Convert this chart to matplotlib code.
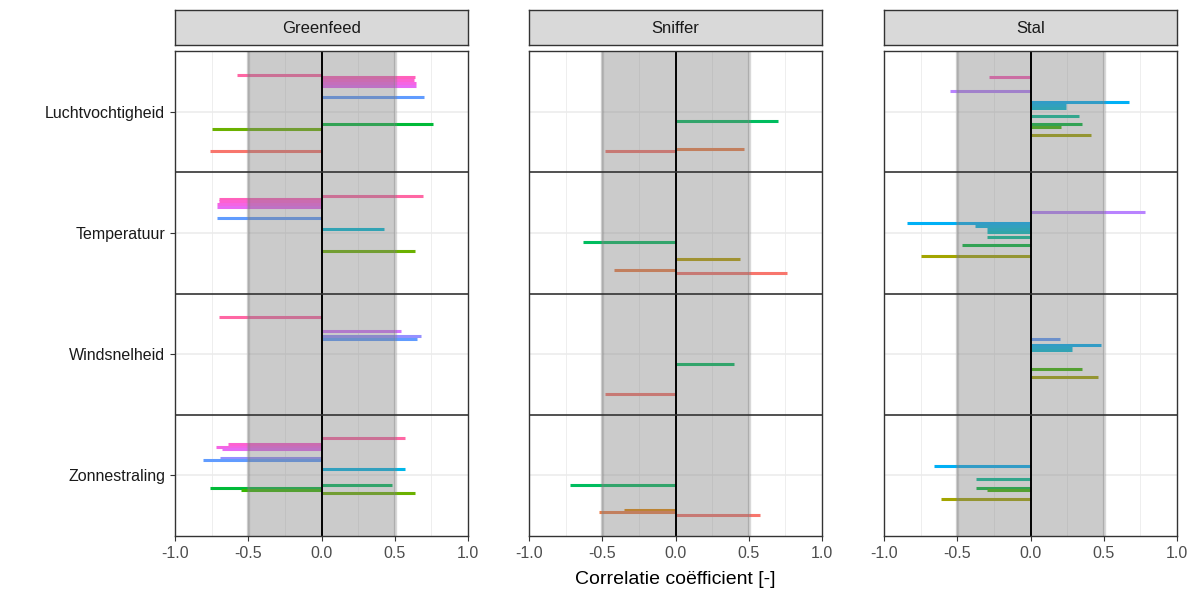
import numpy as np
import matplotlib
matplotlib.use("Agg")
from matplotlib import pyplot as plt

plt.rcParams['font.family'] = ['Liberation Sans', 'DejaVu Sans']

# data: per facet, the category, the series level (0..N-1) and correlation
categories = ["Luchtvochtigheid", "Temperatuur", "Windsnelheid", "Zonnestraling"]
facets = ["Greenfeed", "Sniffer", "Stal"]
n_levels = 30

greenfeed_cat = ["Luchtvochtigheid"] * 9 + ["Temperatuur"] * 8 + ["Windsnelheid"] * 4 + ["Zonnestraling"] * 11
greenfeed_lvl = [28, 27, 26, 25, 24, 20, 10, 8, 0,
                 28, 27, 26, 25, 24, 20, 16, 8,
                 28, 23, 21, 20,
                 28, 26, 25, 24, 21, 20, 17, 11, 10, 9, 8]
greenfeed_val = [-0.58, 0.64, 0.63, 0.645, 0.645, 0.70, 0.76, -0.75, -0.76,
                 0.69, -0.70, -0.70, -0.71, -0.71, -0.71, 0.43, 0.64,
                 -0.70, 0.54, 0.68, 0.65,
                 0.57, -0.64, -0.72, -0.68, -0.69, -0.81, 0.57, 0.48, -0.76, -0.55, 0.64]

sniffer_cat = ["Luchtvochtigheid"] * 3 + ["Temperatuur"] * 4 + ["Windsnelheid"] * 2 + ["Zonnestraling"] * 4
sniffer_lvl = [11, 1, 0,
               11, 5, 1, 0,
               11, 0,
               11, 2, 1, 0]
sniffer_val = [0.70, 0.47, -0.48,
               -0.63, 0.44, -0.42, 0.76,
               0.40, -0.48,
               -0.72, -0.35, -0.52, 0.58]

stal_cat = ["Luchtvochtigheid"] * 9 + ["Temperatuur"] * 8 + ["Windsnelheid"] * 6 + ["Zonnestraling"] * 5
stal_lvl = [27, 22, 18, 17, 16, 13, 10, 9, 6,
            22, 18, 17, 16, 15, 13, 10, 6,
            20, 18, 17, 16, 9, 6,
            18, 13, 10, 9, 6]
stal_val = [-0.28, -0.55, 0.675, 0.24, 0.24, 0.33, 0.35, 0.21, 0.415,
            0.78, -0.84, -0.38, -0.30, -0.30, -0.30, -0.47, -0.745,
            0.20, 0.48, 0.285, 0.285, 0.35, 0.46,
            -0.66, -0.37, -0.37, -0.30, -0.61]

panels = {
    "Greenfeed": (greenfeed_cat, greenfeed_lvl, greenfeed_val),
    "Sniffer": (sniffer_cat, sniffer_lvl, sniffer_val),
    "Stal": (stal_cat, stal_lvl, stal_val),
}


def hcl_hex(h, c=100.0, l=65.0):
    # polarLUV -> sRGB, like ggplot's hue_pal
    hr = np.deg2rad(h)
    U, V = c * np.cos(hr), c * np.sin(hr)
    Xn, Yn, Zn = 95.047, 100.0, 108.883
    un = 4 * Xn / (Xn + 15 * Yn + 3 * Zn)
    vn = 9 * Yn / (Xn + 15 * Yn + 3 * Zn)
    Y = Yn * ((l + 16) / 116) ** 3 if l > 8 else Yn * l / 903.3
    u = U / (13 * l) + un
    v = V / (13 * l) + vn
    X = 9.0 * Y * u / (4 * v)
    Z = -X / 3 - 5 * Y + 3 * Y / v
    M = np.array([[3.240479, -1.537150, -0.498535],
                  [-0.969256, 1.875992, 0.041556],
                  [0.055648, -0.204043, 1.057311]])
    rgb = M @ (np.array([X, Y, Z]) / 100.0)
    rgb = np.where(rgb > 0.0031308, 1.055 * np.abs(rgb) ** (1 / 2.4) - 0.055, 12.92 * rgb)
    rgb = np.clip(rgb, 0, 1)
    return rgb


palette = [hcl_hex(15 + 360 * i / n_levels) for i in range(n_levels)]
dodge = 0.68

fig = plt.figure(figsize=(11.98, 5.94), dpi=100)
W, H = 1198, 594
lefts = [175, 529, 884]
pw = 293
ptop, pbot = 51, 536

for k, name in enumerate(facets):
    ax = fig.add_axes([lefts[k] / W, 1 - pbot / H, pw / W, (pbot - ptop) / H])
    cats, lvls, vals = panels[name]
    ypos = np.array([categories.index(c) for c in cats], dtype=float)
    lv = np.array(lvls)
    # level 0 at bottom of each row (rows run top-down)
    y = ypos + dodge * (0.5 - (lv + 0.5) / n_levels)
    for yi, li, vi in zip(y, lv, vals):
        ax.hlines(yi, 0, vi, color=palette[li], lw=2.2, zorder=3, capstyle='butt')

    ax.set_xlim(-1, 1)
    ax.set_ylim(len(categories) - 0.5, -0.5)
    # grid
    for gx in [-0.75, -0.25, 0.25, 0.75]:
        ax.axvline(gx, color='#EBEBEB', lw=0.6, zorder=1)
    for gx in [-0.5, 0.5]:
        ax.axvline(gx, color='#EBEBEB', lw=1.1, zorder=1)
    for gy in range(len(categories)):
        ax.axhline(gy, color='#EBEBEB', lw=1.1, zorder=1)
    # +-0.5 band, drawn on top as in the original
    ax.axvspan(-0.5, 0.5, facecolor='#7F7F7F', alpha=0.4, lw=0, zorder=4)
    for gx in [-0.5, 0.5]:
        ax.axvline(gx, color='#7F7F7F', alpha=0.3, lw=2.4, zorder=4)
    ax.axvline(0, color='black', lw=1.4, zorder=5)
    for sep in [0.5, 1.5, 2.5]:
        ax.axhline(sep, color='#333333', lw=1.2, zorder=5)

    ax.set_xticks([-1.0, -0.5, 0.0, 0.5, 1.0])
    ax.set_xticklabels(["-1.0", "-0.5", "0.0", "0.5", "1.0"])
    ax.set_yticks(range(len(categories)))
    ax.tick_params(colors='#333333', labelcolor='#4D4D4D', labelsize=11.5, length=3.5, width=0.8)
    if k == 0:
        ax.set_yticklabels(categories)
        ax.tick_params(axis='y', labelcolor='#1A1A1A')
    else:
        ax.set_yticklabels([])
        ax.tick_params(axis='y', length=0)
    for s in ax.spines.values():
        s.set_color('#333333')
        s.set_linewidth(1.0)
        s.set_zorder(6)

    # strip
    sax = fig.add_axes([lefts[k] / W, 1 - 45 / H, pw / W, 35 / H])
    sax.set_facecolor('#D9D9D9')
    sax.set_xticks([])
    sax.set_yticks([])
    for s in sax.spines.values():
        s.set_color('#333333')
        s.set_linewidth(1.0)
    sax.text(0.5, 0.48, name, ha='center', va='center', fontsize=12, color='#1A1A1A',
             transform=sax.transAxes)

fig.text((529 + pw / 2) / W, 1 - 580 / H, "Correlatie coëfficient [-]", ha='center', va='center',
         fontsize=14, color='black')

fig.savefig("out.png", dpi=100)
